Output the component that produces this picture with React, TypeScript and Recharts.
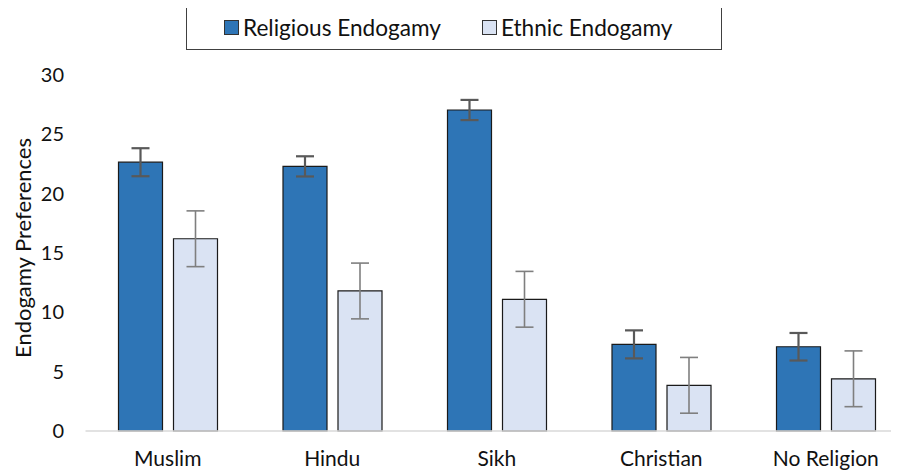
import React from "react";
import { BarChart, Bar, XAxis, YAxis, ErrorBar, Label } from "recharts";

const categories = ["Muslim", "Hindu", "Sikh", "Christian", "No Religion"];
const religiousEndogamy = [22.65, 22.3, 27.05, 7.3, 7.1];
const religiousError = [1.18, 0.85, 0.85, 1.18, 1.16];
const ethnicEndogamy = [16.2, 11.8, 11.1, 3.85, 4.4];
const ethnicError = [2.35, 2.35, 2.35, 2.35, 2.35];
const yTicks = [0, 5, 10, 15, 20, 25, 30];

const data = categories.map((name, i) => ({
  name,
  religious: religiousEndogamy[i],
  religiousErr: religiousError[i],
  ethnic: ethnicEndogamy[i],
  ethnicErr: ethnicError[i],
}));

const FONT = "Lato, 'Open Sans', sans-serif";
const RELIGIOUS = "#2E75B6";
const ETHNIC = "#DAE3F3";

const legendItems = [
  { label: "Religious Endogamy", color: RELIGIOUS },
  { label: "Ethnic Endogamy", color: ETHNIC },
];

const LegendBox = () => (
  <div
    style={{
      position: "absolute",
      left: 178,
      top: -3,
      width: 536,
      height: 45,
      boxSizing: "border-box",
      border: "1.5px solid #404040",
      display: "flex",
      alignItems: "center",
      justifyContent: "flex-start",
      gap: 41,
      paddingLeft: 37,
      fontFamily: FONT,
      fontSize: 22.6,
      color: "#111",
      background: "#fff",
    }}
  >
    {legendItems.map((item) => (
      <div key={item.label} style={{ display: "flex", alignItems: "center" }}>
        <span
          style={{
            display: "inline-block",
            width: 15,
            height: 15,
            boxSizing: "border-box",
            background: item.color,
            border: "1px solid #333",
            marginRight: 4,
          }}
        />
        <span>{item.label}</span>
      </div>
    ))}
  </div>
);

const YTitle = (props: any) => {
  const { viewBox } = props;
  const cx = viewBox.x + 14;
  const cy = viewBox.y + viewBox.height / 2 - 5;
  return (
    <text
      x={cx}
      y={cy}
      transform={`rotate(-90, ${cx}, ${cy})`}
      textAnchor="middle"
      dominantBaseline="central"
      style={{ fontFamily: FONT, fontSize: 22, fill: "#111" }}
    >
      Endogamy Preferences
    </text>
  );
};

export default function App() {
  return (
    <div style={{ width: 891, overflow: "hidden", position: "relative" }}>
      <BarChart
        width={900}
        height={468}
        data={data}
        margin={{ top: 67, right: 0, bottom: 0, left: 0 }}
        barSize={44}
        barGap={11}
      >
        <XAxis
          dataKey="name"
          height={45}
          axisLine={{ stroke: "#d9d9d9", strokeWidth: 1.5 }}
          tickLine={false}
          tickMargin={14}
          tick={{ fontFamily: FONT, fontSize: 21, fill: "#111" }}
        />
        <YAxis
          width={77.5}
          domain={[0, 30]}
          ticks={yTicks}
          axisLine={false}
          tickLine={false}
          tickMargin={15.5}
          tick={{ fontFamily: FONT, fontSize: 20, fill: "#111" }}
        >
          <Label content={<YTitle />} />
        </YAxis>
        <Bar dataKey="religious" fill={RELIGIOUS} stroke="#1a1a1a" strokeWidth={1.2} isAnimationActive={false}>
          <ErrorBar dataKey="religiousErr" width={9} stroke="#595959" strokeWidth={2.2} />
        </Bar>
        <Bar dataKey="ethnic" fill={ETHNIC} stroke="#1a1a1a" strokeWidth={1.2} isAnimationActive={false}>
          <ErrorBar dataKey="ethnicErr" width={9} stroke="#7f7f7f" strokeWidth={1.6} />
        </Bar>
      </BarChart>
      <LegendBox />
    </div>
  );
}
